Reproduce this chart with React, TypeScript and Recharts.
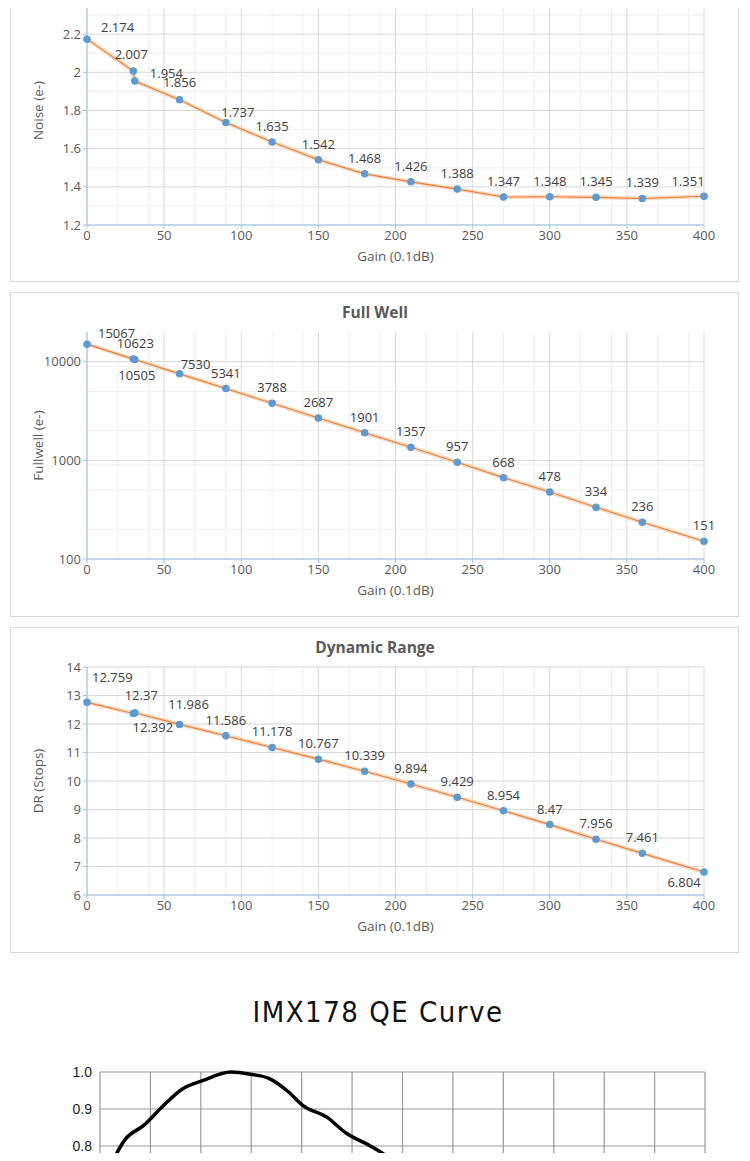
import { CartesianGrid, Label, LabelList, Line, LineChart, XAxis, YAxis } from "recharts";

const gain = [0, 30, 31, 60, 90, 120, 150, 180, 210, 240, 270, 300, 330, 360, 400];
const noise = [2.174, 2.007, 1.954, 1.856, 1.737, 1.635, 1.542, 1.468, 1.426, 1.388, 1.347, 1.348, 1.345, 1.339, 1.351];
const fullWell = [15067, 10623, 10505, 7530, 5341, 3788, 2687, 1901, 1357, 957, 668, 478, 334, 236, 151];
const dr = [12.759, 12.37, 12.392, 11.986, 11.586, 11.178, 10.767, 10.339, 9.894, 9.429, 8.954, 8.47, 7.956, 7.461, 6.804];

const gainTicks = [0, 50, 100, 150, 200, 250, 300, 350, 400];
const gainMinor = [10, 20, 30, 40, 60, 70, 80, 90, 110, 120, 130, 140, 160, 170, 180, 190, 210, 220, 230, 240, 260, 270, 280, 290, 310, 320, 330, 340, 360, 370, 380, 390];
const noiseTicks = [1.2, 1.4, 1.6, 1.8, 2, 2.2, 2.4];
const noiseMinor = [1.3, 1.5, 1.7, 1.9, 2.1, 2.3];
const wellTicks = [100, 1000, 10000];
const wellMinor = [200, 300, 400, 500, 600, 700, 800, 900, 2000, 3000, 4000, 5000, 6000, 7000, 8000, 9000];
const drTicks = [6, 7, 8, 9, 10, 11, 12, 13, 14];

const qeWave = [400, 408, 425, 444, 462, 482, 501, 530, 549, 568, 587, 601, 625, 644, 668, 683, 697, 705];
const qeValue = [0.7, 0.737, 0.818, 0.857, 0.907, 0.955, 0.976, 1.0, 0.994, 0.982, 0.946, 0.91, 0.878, 0.835, 0.8, 0.775, 0.742, 0.72];
const qeXTicks = [400, 450, 500, 550, 600, 650, 700, 750, 800, 850, 900, 950, 1000];
const qeYTicks = [0, 0.1, 0.2, 0.3, 0.4, 0.5, 0.6, 0.7, 0.8, 0.9, 1.0];

const FONT = "'Open Sans', 'Liberation Sans', sans-serif";
const AXIS = "#9dc3e6";
const tickStyle = { fill: "#595959", fontSize: 13, fontFamily: FONT };

type Off = { dx: number; dy: number; anchor?: "start" | "middle" | "end" };

const makeLabel =
  (offsets: Record<number, Off>) =>
  (props: any) => {
    const { x, y, value, index } = props;
    const o = offsets[index] ?? { dx: 0, dy: -11 };
    return (
      <text
        x={x + o.dx}
        y={y + o.dy}
        textAnchor={o.anchor ?? "middle"}
        fill="#404040"
        fontSize={13}
        fontFamily={FONT}
      >
        {value}
      </text>
    );
  };

function Series({ dataKey, offsets }: { dataKey: string; offsets: Record<number, Off> }) {
  return [
    <Line
      key="glow"
      type="linear"
      dataKey={dataKey}
      stroke="#f8cbad"
      strokeOpacity={0.7}
      strokeWidth={4}
      dot={false}
      isAnimationActive={false}
    />,
    <Line
      key="main"
      type="linear"
      dataKey={dataKey}
      stroke="#ed7d31"
      strokeWidth={1.1}
      dot={{ r: 3.2, fill: "#5b9bd5", stroke: "#5b9bd5" }}
      isAnimationActive={false}
    >
      <LabelList dataKey={dataKey} content={makeLabel(offsets)} />
    </Line>,
  ];
}

const noiseRows = gain.map((g, i) => ({ gain: g, v: noise[i] }));
const wellRows = gain.map((g, i) => ({ gain: g, v: fullWell[i] }));
const drRows = gain.map((g, i) => ({ gain: g, v: dr[i] }));
const qeRows = qeWave.map((w, i) => ({ w, v: qeValue[i] }));

const panel = (top: number, height: number) => ({
  position: "absolute" as const,
  left: 10,
  top,
  width: 727,
  height,
  border: "1px solid #d9d9d9",
  background: "#fff",
});

const titleStyle = (top: number) => ({
  position: "absolute" as const,
  left: 0,
  width: 750,
  top,
  textAlign: "center" as const,
  fontFamily: FONT,
  fontWeight: 700,
  fontSize: 15.5,
  color: "#595959",
});

function ExcelChart({
  rows,
  top,
  height,
  mTop,
  mBottom,
  yTicks,
  yMinor,
  yDomain,
  log,
  yLabel,
  offsets,
  yFmt,
}: any) {
  return (
    <div style={{ position: "absolute", left: 10, top }}>
      <LineChart width={727} height={height} data={rows} margin={{ top: mTop, right: 33, bottom: mBottom, left: 30 }}>
        <CartesianGrid stroke="#efefef" horizontalValues={yMinor} verticalValues={gainMinor} />
        <CartesianGrid stroke="#d9d9d9" horizontalValues={yTicks} verticalValues={gainTicks} />
        <XAxis
          dataKey="gain"
          type="number"
          domain={[0, 400]}
          ticks={gainTicks}
          tick={tickStyle}
          stroke={AXIS}
          tickSize={4}
          height={36}
        >
          <Label value="Gain (0.1dB)" position="insideBottom" offset={0} style={{ ...tickStyle, fontSize: 13.5 }} />
        </XAxis>
        <YAxis
          type="number"
          scale={log ? "log" : "auto"}
          domain={yDomain}
          ticks={yTicks}
          tick={tickStyle}
          tickFormatter={yFmt}
          stroke={AXIS}
          tickSize={4}
          width={47}
          allowDataOverflow
        >
          <Label value={yLabel} angle={-90} position="insideLeft" offset={-2} style={{ ...tickStyle, fontSize: 13.5, textAnchor: "middle" }} />
        </YAxis>
        {Series({ dataKey: "v", offsets })}
      </LineChart>
    </div>
  );
}

export default function App() {
  return (
    <div style={{ position: "relative", width: 750, height: 1161, margin: -8, overflow: "hidden", background: "#fff" }}>
      <div style={panel(-10, 290)} />
      <ExcelChart
        rows={noiseRows}
        top={-30}
        height={310}
        mTop={26}
        mBottom={19}
        yTicks={noiseTicks}
        yMinor={noiseMinor}
        yDomain={[1.2, 2.4]}
        yLabel="Noise (e-)"
        yFmt={(v: number) => String(Math.round(v * 10) / 10)}
        offsets={{
          0: { dx: 14, dy: -7, anchor: "start" },
          1: { dx: -2, dy: -12 },
          2: { dx: 15, dy: -3, anchor: "start" },
          3: { dx: 0, dy: -13 },
          4: { dx: 12, dy: -6 },
          14: { dx: -16, dy: -10 },
        }}
      />
      <div style={panel(292, 323)} />
      <div style={titleStyle(301)}>Full Well</div>
      <ExcelChart
        rows={wellRows}
        top={292}
        height={323}
        mTop={40}
        mBottom={20}
        yTicks={wellTicks}
        yMinor={wellMinor}
        yDomain={[100, 20000]}
        log
        yLabel="Fullwell (e-)"
        yFmt={(v: number) => String(v)}
        offsets={{
          0: { dx: 11, dy: -6, anchor: "start" },
          1: { dx: 2, dy: -11 },
          2: { dx: 2, dy: 20 },
          3: { dx: 16, dy: -5 },
        }}
      />
      <div style={panel(627, 324)} />
      <div style={titleStyle(636)}>Dynamic Range</div>
      <ExcelChart
        rows={drRows}
        top={627}
        height={324}
        mTop={40}
        mBottom={20}
        yTicks={drTicks}
        yMinor={[]}
        yDomain={[6, 14]}
        yLabel="DR (Stops)"
        yFmt={(v: number) => String(v)}
        offsets={{
          0: { dx: 5, dy: -20, anchor: "start" },
          1: { dx: 8, dy: -13 },
          2: { dx: 18, dy: 19 },
          3: { dx: 9, dy: -15 },
          14: { dx: -20, dy: 15 },
        }}
      />
      <div
        style={{
          position: "absolute",
          left: 0,
          width: 756,
          top: 995,
          textAlign: "center",
          fontFamily: "'Liberation Sans Narrow', 'DejaVu Sans Condensed', sans-serif",
          fontSize: 29,
          letterSpacing: 1.5,
          color: "#111",
        }}
      >
        IMX178 QE Curve
      </div>
      <div style={{ position: "absolute", left: 40, top: 1062 }}>
        <LineChart width={700} height={400} data={qeRows} margin={{ top: 10, right: 35, bottom: 20, left: 0 }}>
          <CartesianGrid stroke="#999" strokeWidth={1.2} horizontalValues={qeYTicks} verticalValues={qeXTicks} />
          <XAxis dataKey="w" type="number" domain={[400, 1000]} ticks={qeXTicks} hide />
          <YAxis
            type="number"
            domain={[0, 1]}
            ticks={qeYTicks}
            tickFormatter={(v: number) => v.toFixed(1)}
            tick={{ fill: "#222", fontSize: 14, fontFamily: "'Liberation Sans Narrow', sans-serif" }}
            axisLine={false}
            tickLine={false}
            width={60}
          />
          <Line type="monotone" dataKey="v" stroke="#000" strokeWidth={3.5} dot={false} isAnimationActive={false} />
        </LineChart>
      </div>
    </div>
  );
}
